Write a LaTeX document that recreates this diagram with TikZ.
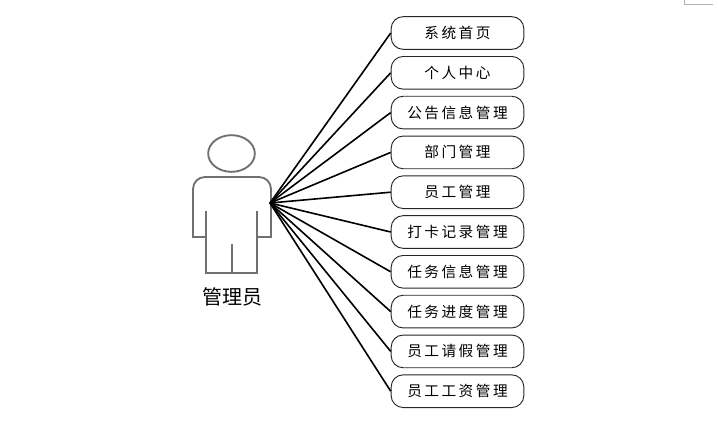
\documentclass[tikz,border=0pt]{standalone}
\usepackage{fontspec}
\usepackage{xcolor}
\setmainfont{Noto Sans CJK SC}
\newfontfamily\boxfont[LetterSpace=17]{Noto Sans CJK SC}
\usetikzlibrary{positioning,shapes.geometric}
\definecolor{PersonGray}{RGB}{112,112,112}

\begin{document}
\begin{tikzpicture}[
  x=0.75pt, y=-0.75pt,
  menu/.style={draw=black!85,line width=0.7pt,fill=white,rounded corners=9pt,align=center,inner sep=0pt,minimum width=99.5pt,minimum height=24.5pt,font=\boxfont\fontsize{11pt}{12pt}\selectfont},
  link/.style={draw=black,line width=1.2pt},
  person/.style={draw=PersonGray,line width=1.4pt},
  node distance=4.65pt
]
\useasboundingbox (0,0) rectangle (718,421);
% figure
\node[person,ellipse,inner sep=0pt,minimum width=35pt,minimum height=27.5pt] (head) at (231.5,153.5) {};
\draw[person] (206,237) -- (193,237) [rounded corners=9pt] -- (193,177) -- (271,177) [sharp corners] -- (271,237) -- (257,237);
\draw[person] (206,211) -- (206,273) -- (257,273) -- (257,211);
\draw[person] (232,244) -- (232,273);
\coordinate (hub) at (270,203);
\node[font=\fontsize{15pt}{16pt}\selectfont] (admin) at (232,297) {管理员};
% menu
\node[menu] (home) at (457.5,33) {系统首页};
\node[menu,below=of home] (self) {个人中心};
\node[menu,below=of self] (notice) {公告信息管理};
\node[menu,below=of notice] (dept) {部门管理};
\node[menu,below=of dept] (staff) {员工管理};
\node[menu,below=of staff] (clock) {打卡记录管理};
\node[menu,below=of clock] (task) {任务信息管理};
\node[menu,below=of task] (prog) {任务进度管理};
\node[menu,below=of prog] (leave) {员工请假管理};
\node[menu,below=of leave] (pay) {员工工资管理};
\draw[link] (hub) -- (home.west);
\draw[link] (hub) -- (self.west);
\draw[link] (hub) -- (notice.west);
\draw[link] (hub) -- (dept.west);
\draw[link] (hub) -- (staff.west);
\draw[link] (hub) -- (clock.west);
\draw[link] (hub) -- (task.west);
\draw[link] (hub) -- (prog.west);
\draw[link] (hub) -- (leave.west);
\draw[link] (hub) -- (pay.west);
% page corner
\draw[draw=black!30,line width=0.6pt] (684.5,0) -- (684.5,4) -- (713,4);
\end{tikzpicture}
\end{document}
